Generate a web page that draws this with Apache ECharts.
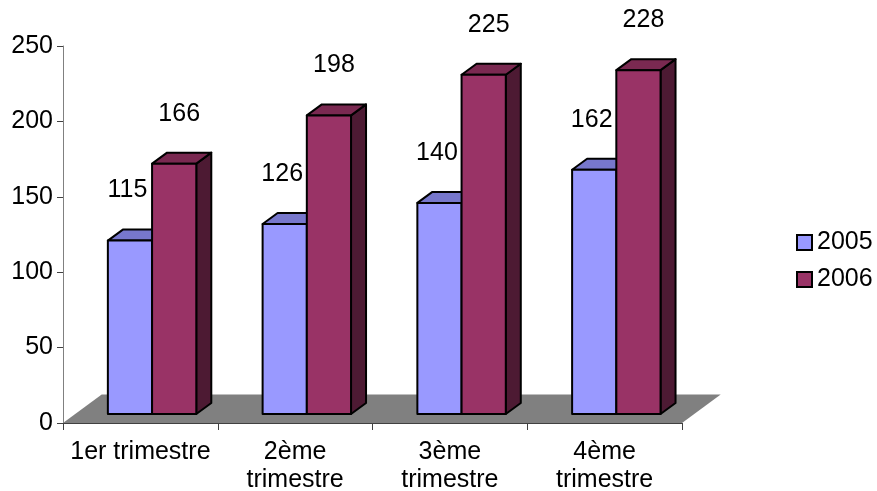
<!DOCTYPE html>
<html><head><meta charset="utf-8">
<script src="https://cdn.jsdelivr.net/npm/echarts@6/dist/echarts.min.js"></script>
<style>html,body{margin:0;padding:0;background:#fff}#c{width:877px;height:491px}</style>
</head><body><div id="c"></div>
<script>
const categories = ['1er trimestre', '2ème\ntrimestre', '3ème\ntrimestre', '4ème\ntrimestre'];
const seriesNames = ['2005', '2006'];
const values2005 = [115, 126, 140, 162];
const values2006 = [166, 198, 225, 228];
const yMin = 0, yMax = 250, yInterval = 50;

const FONT = '"Liberation Sans", Arial, sans-serif';
const FS = 25;
const faceColors = [
  { front: '#9999ff', top: '#7777cc', side: '#4d4d80' },
  { front: '#993366', top: '#7a2951', side: '#4d1a33' }
];
const BAR_DX = 15, BAR_DY = 11;
const FLOOR_DX = 38.7, FLOOR_DY = 28.4;
const LIFT = 9;
const LABEL_DX = [-2.5, 5];

function makeBar(si) {
  return function (params, api) {
    const ci = api.value(0), v = api.value(1);
    const top = api.coord([ci, v]);
    const base = api.coord([ci, 0]);
    const band = api.size([1, 0])[0];
    const bw = band * 0.2857, shift = band * 0.0756;
    const x0 = top[0] + shift - bw + si * bw, x1 = x0 + bw;
    const yt = top[1] - LIFT, yb = base[1] - LIFT;
    const col = faceColors[si];
    const st = { stroke: '#000', lineWidth: 2, lineJoin: 'round' };
    return {
      type: 'group',
      children: [
        { type: 'polygon', shape: { points: [[x1, yt], [x1 + BAR_DX, yt - BAR_DY], [x1 + BAR_DX, yb - BAR_DY], [x1, yb]] },
          style: Object.assign({ fill: col.side }, st) },
        { type: 'polygon', shape: { points: [[x0, yt], [x1, yt], [x1 + BAR_DX, yt - BAR_DY], [x0 + BAR_DX, yt - BAR_DY]] },
          style: Object.assign({ fill: col.top }, st) },
        { type: 'rect', shape: { x: x0, y: yt, width: bw, height: yb - yt },
          style: Object.assign({ fill: col.front }, st) },
        { type: 'text', style: { text: String(v), x: (x0 + x1) / 2 + LABEL_DX[si], y: yt - 50,
          align: 'center', verticalAlign: 'middle', fill: '#000', fontSize: FS, fontFamily: FONT } }
      ]
    };
  };
}

function renderFloor(params, api) {
  const cs = params.coordSys;
  const yb = cs.y + cs.height;
  return {
    type: 'polygon',
    shape: { points: [[cs.x, yb], [cs.x + cs.width, yb], [cs.x + cs.width + FLOOR_DX, yb - FLOOR_DY], [cs.x + FLOOR_DX, yb - FLOOR_DY]] },
    style: { fill: '#808080' }
  };
}

const chart = echarts.init(document.getElementById('c'), null, { renderer: 'canvas' });
chart.setOption({
  animation: false,
  backgroundColor: '#fff',
  textStyle: { fontFamily: FONT },
  grid: { left: 63, top: 46, width: 619, height: 377, outerBoundsMode: 'none' },
  legend: {
    data: seriesNames, orient: 'vertical', left: 791, top: 225,
    icon: 'rect', itemWidth: 15, itemHeight: 15, itemGap: 12,
    itemStyle: { borderColor: '#000', borderWidth: 2 },
    textStyle: { fontSize: FS, lineHeight: 25, color: '#000', fontFamily: FONT }
  },
  xAxis: {
    type: 'category', data: categories, z: 5,
    axisLine: { lineStyle: { color: '#404040', width: 1 } },
    axisTick: { show: true, length: 7, lineStyle: { color: '#404040' } },
    axisLabel: { interval: 0, margin: 15, fontSize: FS, lineHeight: 28, color: '#000', fontFamily: FONT },
    splitLine: { show: false }
  },
  yAxis: {
    type: 'value', min: yMin, max: yMax, interval: yInterval, z: 5,
    axisLine: { show: true, lineStyle: { color: '#808080', width: 1 } },
    axisTick: { show: true, length: 6, lineStyle: { color: '#404040' } },
    axisLabel: { margin: 10, fontSize: FS, color: '#000', fontFamily: FONT },
    splitLine: { show: false }
  },
  series: [
    { type: 'custom', name: 'floor', silent: true, z: 1, renderItem: renderFloor, data: [[0, 0]], encode: { x: 0, y: 1 } },
    { type: 'custom', name: seriesNames[0], z: 2, itemStyle: { color: faceColors[0].front },
      renderItem: makeBar(0), data: values2005.map((v, i) => [i, v]), encode: { x: 0, y: 1 } },
    { type: 'custom', name: seriesNames[1], z: 2, itemStyle: { color: faceColors[1].front },
      renderItem: makeBar(1), data: values2006.map((v, i) => [i, v]), encode: { x: 0, y: 1 } }
  ]
});
</script></body></html>
